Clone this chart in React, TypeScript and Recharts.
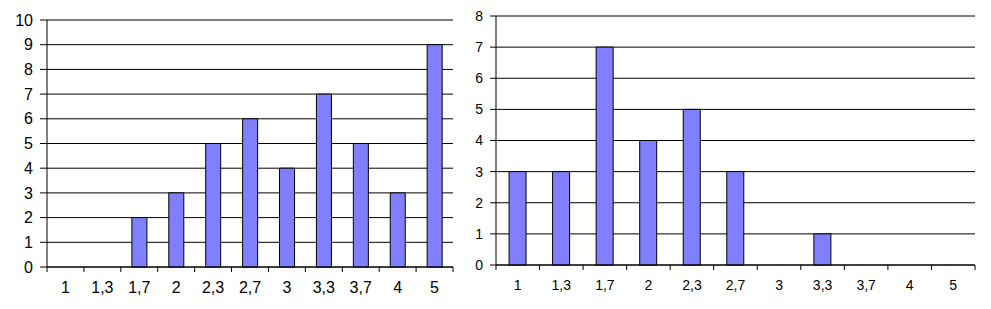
import React from "react";
import { BarChart, Bar, XAxis, YAxis, CartesianGrid, ReferenceLine } from "recharts";

const categories = ["1", "1,3", "1,7", "2", "2,3", "2,7", "3", "3,3", "3,7", "4", "5"];
const leftValues = [0, 0, 2, 3, 5, 6, 4, 7, 5, 3, 9];
const rightValues = [3, 3, 7, 4, 5, 3, 0, 1, 0, 0, 0];
const leftTicks = [0, 1, 2, 3, 4, 5, 6, 7, 8, 9, 10];
const rightTicks = [0, 1, 2, 3, 4, 5, 6, 7, 8];

const FONT = '"Liberation Sans", Arial, sans-serif';
const BAR = "#8080ff";

// tick marks sit on the category boundaries, labels in the middle
const BoundaryTick = ({ x, y, payload, index, band, fontSize, count }: any) => {
  const top = y - 15;
  return (
    <g>
      <line x1={x - band / 2} y1={top} x2={x - band / 2} y2={top + 5} stroke="#000" />
      {index === count - 1 && <line x1={x + band / 2} y1={top} x2={x + band / 2} y2={top + 5} stroke="#000" />}
      <text x={x} y={y} dy="0.71em" textAnchor="middle" fill="#000" fontSize={fontSize} fontFamily={FONT}>
        {payload.value}
      </text>
    </g>
  );
};

interface PanelProps {
  values: number[];
  ticks: number[];
  width: number;
  height: number;
  margin: { top: number; right: number; bottom: number; left: number };
  yWidth: number;
  yTickSize: number;
  fontSize: number;
}

function Panel({ values, ticks, width, height, margin, yWidth, yTickSize, fontSize }: PanelProps) {
  const data = categories.map((c, i) => ({ name: c, value: values[i] }));
  const max = ticks[ticks.length - 1];
  const band = (width - margin.left - margin.right - yWidth) / categories.length;
  return (
    <BarChart width={width} height={height} data={data} margin={margin} barCategoryGap="30%">
      <CartesianGrid yAxisId="l" vertical={false} stroke="#000" />
      <XAxis
        dataKey="name"
        interval={0}
        height={30}
        tickLine={false}
        tickSize={5}
        tickMargin={10}
        axisLine={{ stroke: "#000" }}
        tick={<BoundaryTick band={band} fontSize={fontSize} count={categories.length} />}
      />
      <YAxis
        yAxisId="l"
        width={yWidth}
        domain={[0, max]}
        ticks={ticks}
        interval={0}
        tickSize={yTickSize}
        tickMargin={7}
        axisLine={{ stroke: "#000" }}
        tickLine={{ stroke: "#000" }}
        tick={{ fill: "#000", fontSize, fontFamily: FONT }}
      />
      <YAxis yAxisId="r" orientation="right" width={0} tick={false} tickLine={false} axisLine={{ stroke: "#808080" }} />
      <ReferenceLine yAxisId="l" y={max} stroke="#808080" />
      <Bar yAxisId="l" dataKey="value" fill={BAR} stroke="#000" strokeWidth={1} isAnimationActive={false} />
    </BarChart>
  );
}

export default function App() {
  return (
    <div style={{ position: "fixed", left: 0, top: 0, width: 991, height: 309, background: "#fff" }}>
      <div style={{ position: "absolute", left: 0, top: 0 }}>
        <Panel
          values={leftValues}
          ticks={leftTicks}
          width={470}
          height={309}
          margin={{ top: 20, right: 17, bottom: 12, left: 0 }}
          yWidth={47}
          yTickSize={7}
          fontSize={16}
        />
      </div>
      <div style={{ position: "absolute", left: 470, top: 0 }}>
        <Panel
          values={rightValues}
          ticks={rightTicks}
          width={521}
          height={309}
          margin={{ top: 16, right: 16, bottom: 14, left: 0 }}
          yWidth={26}
          yTickSize={6}
          fontSize={14}
        />
      </div>
    </div>
  );
}
